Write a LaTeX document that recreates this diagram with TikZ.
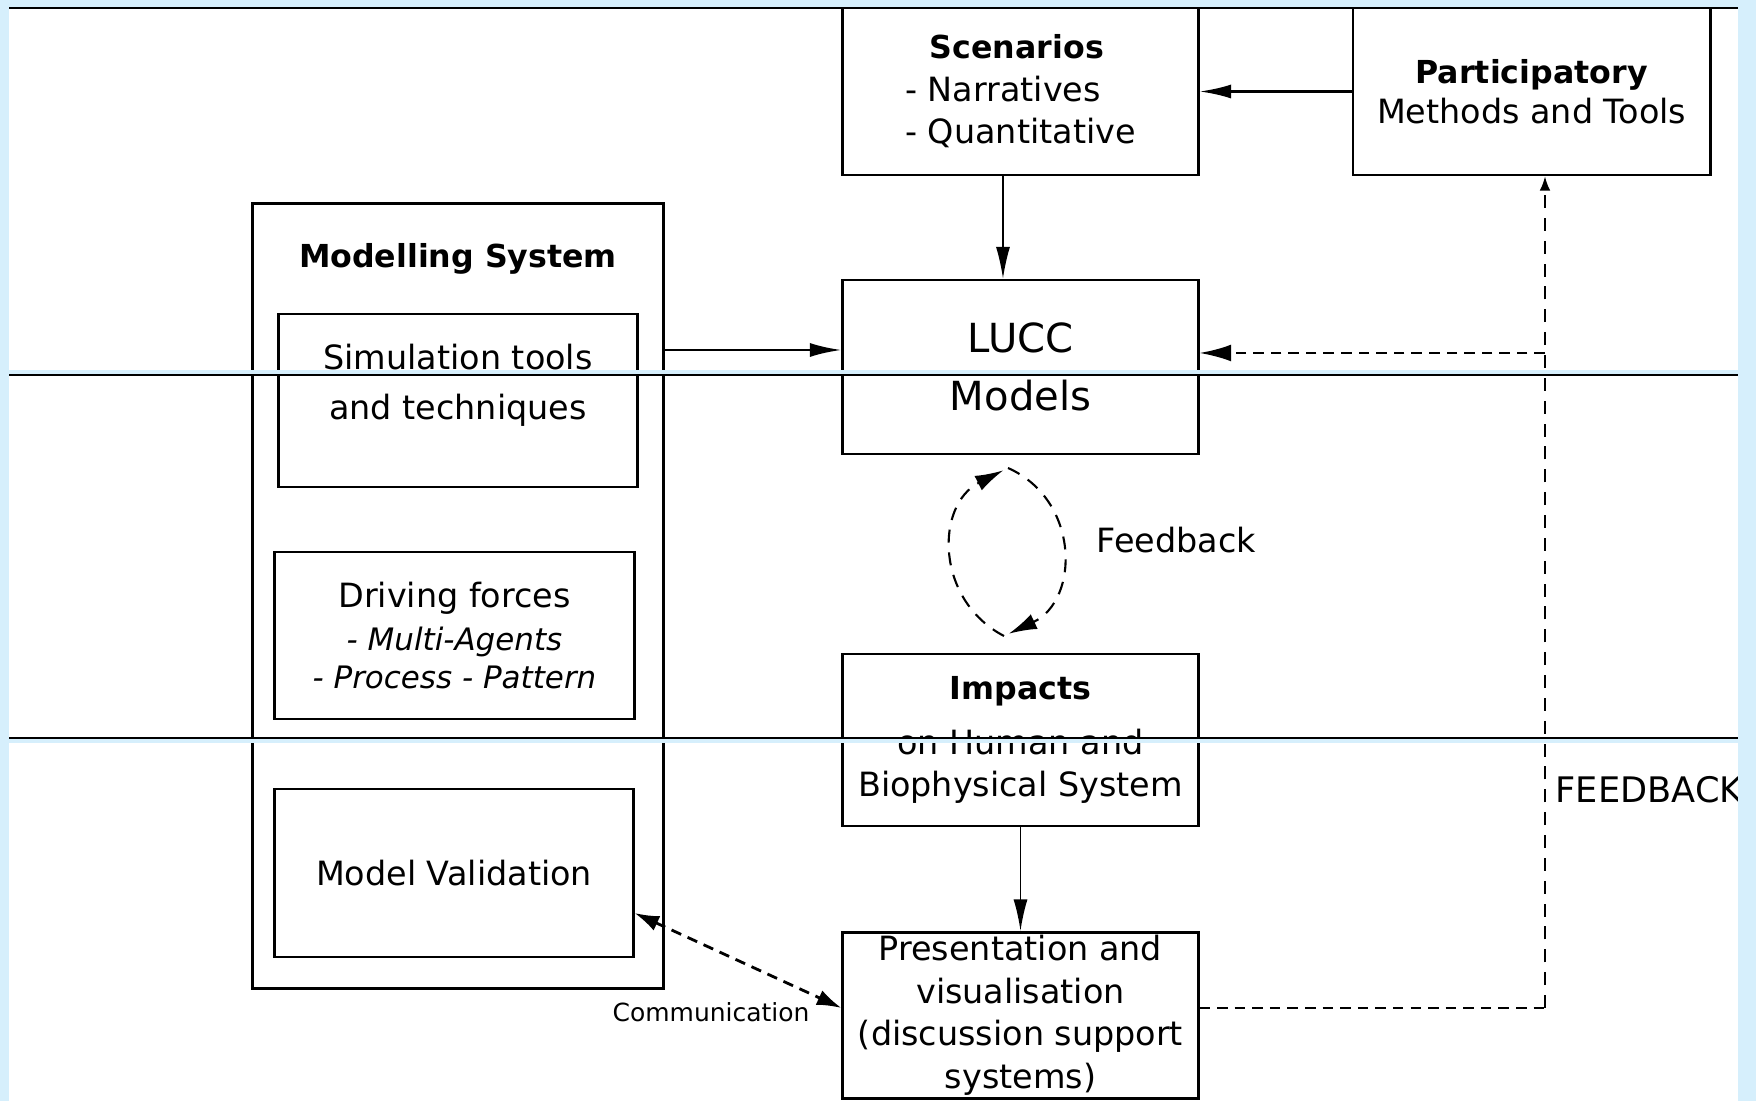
\documentclass[tikz,border=0pt]{standalone}
\usepackage{fontspec}
\setmainfont{DejaVu Sans}
\usetikzlibrary{arrows.meta, positioning}
\definecolor{slideblue}{RGB}{214,239,252}
\tikzstyle{block}=[draw,fill=white,rectangle,line width=0.8pt,inner sep=0pt,align=center]
\tikzstyle{every node}=[font=\fontsize{9.5}{12.1}\selectfont]
\tikzstyle{lbl}=[inner sep=0pt,anchor=base west]
\tikzstyle{fb}=[dash pattern=on 3pt off 2pt,line width=0.7pt]
\tikzstyle{fbv}=[dash pattern=on 3.7pt off 2.8pt,line width=0.45pt]
\tikzstyle{fbloop}=[dash pattern=on 3.7pt off 2.8pt,line width=0.6pt]
\newcommand{\hdr}[1]{{\fontsize{9}{12.1}\selectfont\bfseries #1}}
\newcommand{\subitm}[1]{{\fontsize{8.8}{12.1}\selectfont\itshape #1}}

\begin{document}
\begin{tikzpicture}[x=0.01cm,y=-0.01cm,>={Latex[length=9pt,width=4pt]}]
  \useasboundingbox (0,0) rectangle (1756,1101);
  \fill[white] (0,0) rectangle (1756,1101);

  \node[block, align=left, minimum width=3.55cm, minimum height=1.67cm] (scen) at (1020.5,91.5)
    {\hspace*{7pt}\hdr{Scenarios}\\- Narratives\\- Quantitative};
  \node[block, right=1.52cm of scen, minimum width=3.57cm, minimum height=1.67cm] (part)
    {\hdr{Participatory}\\[-0.7pt]Methods and Tools};
  \node[block, below=1.02cm of scen, minimum width=3.55cm, minimum height=1.74cm,
    font=\fontsize{11.4}{16.5}\selectfont] (lucc) {LUCC\\Models};
  \node[block, below=1.97cm of lucc, minimum width=3.55cm, minimum height=1.72cm] (impact)
    {\hdr{Impacts}\\[3.5pt]on Human and\\Biophysical System};
  \node[block, below=1.035cm of impact, minimum width=3.55cm, minimum height=1.66cm] (pres)
    {Presentation and\\visualisation\\(discussion support\\systems)};

  \node[block, minimum width=4.10cm, minimum height=7.84cm] (msys) at (458,596) {};
  \node[anchor=base] (mtitle) at (458,268) {\hdr{Modelling System}};
  \node[block, minimum width=3.58cm, minimum height=1.73cm] (sim) at (458,400.5) {};
  \node[align=center] (simtxt) at (458,385) {Simulation tools\\[2.1pt]and techniques};
  \node[block, minimum width=3.59cm, minimum height=1.67cm] (drive) at (454.5,635.5)
    {Driving forces\\\subitm{- Multi-Agents}\\[-1.4pt]\subitm{- Process - Pattern}};
  \node[block, minimum width=3.58cm, minimum height=1.68cm] (valid) at (454,873) {Model Validation};

  \node[lbl] (fblbl) at (1096,553) {Feedback};
  \node[lbl, font=\fontsize{10}{12}\selectfont] (bigfb) at (1555,803) {FEEDBACK};
  \node[lbl, font=\fontsize{7.1}{8.5}\selectfont] (comm) at (612,1022) {Communication};

  \draw[line width=0.75pt,->] (part) -- (scen);
  \draw[line width=0.4pt,->] ([xshift=-0.175cm]scen.south) -- ([xshift=-0.175cm]lucc.north);
  \draw[line width=0.8pt,->] (msys.east |- 0,350) -- (lucc.west |- 0,350);
  \draw[line width=0.5pt,->] (impact) -- (pres);

  \coordinate (fbturn) at (1545,1008);
  \coordinate (fbtap) at (1545,353);
  \draw[fb] (pres.east |- fbturn) -- (fbturn);
  \draw[fbv,-{Latex[length=4pt,width=3pt]}] (fbturn) -- (fbturn |- part.south);
  \draw[fb,-{Latex[length=9pt,width=4.8pt]}] (fbtap) -- (lucc.east |- fbtap);
  \draw[fb,line width=0.8pt,{Latex[length=7pt,width=4.5pt]}-{Latex[length=7pt,width=4.5pt]}]
    (valid.east |- 0,913) -- (pres.west |- 0,1008);

  \coordinate (looptop) at (1008,468);
  \coordinate (loopbot) at (1004,636);
  \draw[fbloop,-{Latex[length=8pt,width=4.6pt]},shorten >=1.5pt]
    (loopbot) .. controls (935,600) and (935,505) .. (looptop);
  \draw[fbloop,-{Latex[length=8pt,width=4.6pt]},shorten >=1.5pt]
    (looptop) .. controls (1080,500) and (1080,600) .. (loopbot);

  \fill[slideblue] (0,0) rectangle (9,1101);
  \fill[slideblue] (1738,0) rectangle (1756,1101);
  \fill[slideblue] (0,0) rectangle (1756,7);
  \draw[line width=0.75pt] (9,8) -- (1738,8);
  \fill[slideblue] (9,370.5) rectangle (1738,374.5);
  \draw[line width=0.45pt] (9,375.3) -- (1738,375.3);
  \draw[line width=0.55pt] (9,738) -- (1738,738);
  \fill[slideblue] (9,739) rectangle (1738,743);
\end{tikzpicture}
\end{document}
